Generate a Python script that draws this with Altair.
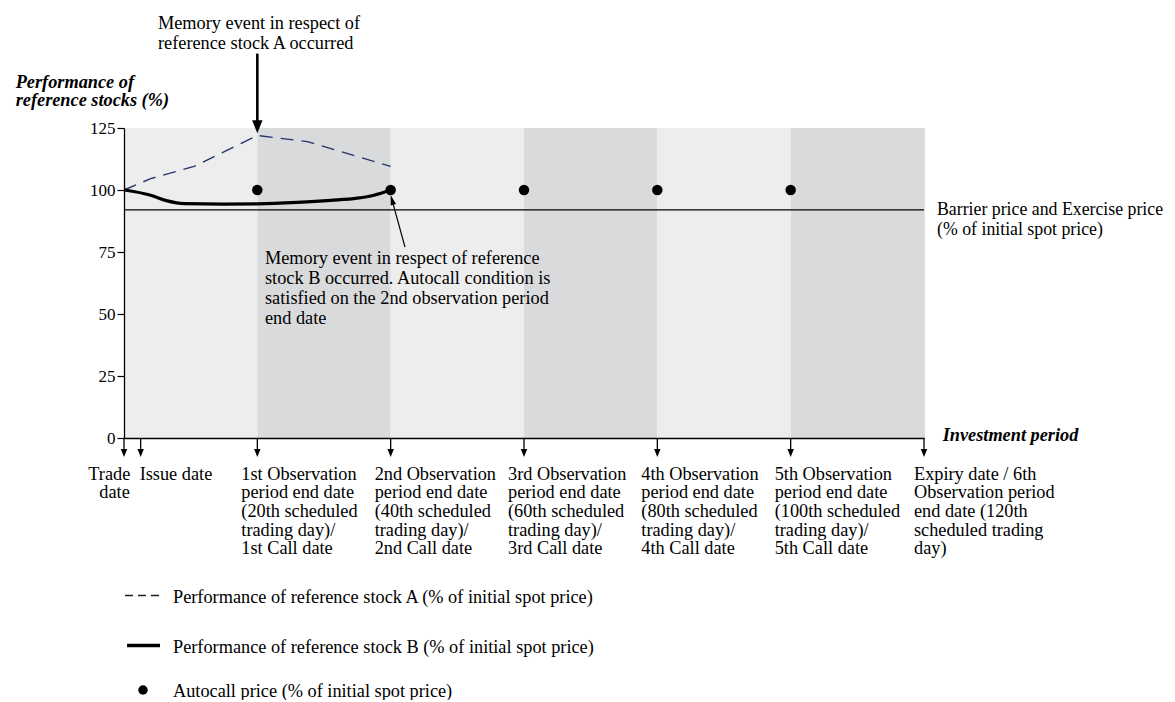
import altair as alt
import pandas as pd

FONT = "Liberation Serif"
NB = "\u00a0"

# ---------------- data ----------------
stock_a_days = [0, 4, 10.5, 20, 27.5, 40]
stock_a_perf = [100, 104.6, 109.5, 122, 119.5, 109.5]

stock_b_days = [0, 4, 6.5, 9, 15, 20, 26, 31, 35, 37.5, 40]
stock_b_perf = [100, 97.9, 95.6, 94.5, 94.3, 94.4, 95.0, 95.8, 96.7, 97.9, 100]

call_days = [20, 40, 60, 80, 100]
autocall_price = [100, 100, 100, 100, 100]

barrier_level = [92]

band_start = [0, 20, 40, 60, 80, 100]
band_end = [20, 40, 60, 80, 100, 120]
band_shade = ["light", "dark", "light", "dark", "light", "dark"]

y_ticks = [0, 25, 50, 75, 100, 125]

event_days = [0, 2.5, 20, 40, 60, 80, 100, 120]

obs_days = [20, 40, 60, 80, 100]
obs_labels = [
    "1st Observation\nperiod end date\n(20th scheduled\ntrading day)/\n1st Call date",
    "2nd Observation\nperiod end date\n(40th scheduled\ntrading day)/\n2nd Call date",
    "3rd Observation\nperiod end date\n(60th scheduled\ntrading day)/\n3rd Call date",
    "4th Observation\nperiod end date\n(80th scheduled\ntrading day)/\n4th Call date",
    "5th Observation\nperiod end date\n" + NB + "(100th scheduled\n" + NB + "trading day)/\n5th Call date",
]
expiry_label = "Expiry date / 6th\nObservation period\nend date (120th\nscheduled trading\nday)"

# annotation arrows (day, value) in data units
arrow_a_day = [20]
arrow_a_from = [155]
arrow_a_to = [125.5]
arrow_b_tail = [42.15, 77.0]
arrow_b_head = [40.2, 96.0]

W, H = 800, 310

xs = alt.Scale(domain=[0, 120], nice=False, zero=False)
ys = alt.Scale(domain=[0, 125], nice=False, zero=True)

x_axis = alt.Axis(labels=False, ticks=False, grid=False, title=None,
                  domainColor="black", domainWidth=1.3, zindex=1)
y_axis = alt.Axis(values=y_ticks, grid=False, title=None, labelFont=FONT,
                  labelFontSize=17, labelColor="black", tickColor="black",
                  tickSize=7, tickWidth=1.2, domainColor="black",
                  domainWidth=1.3, labelPadding=2, zindex=1)


def X(f):
    return alt.X(f, type="quantitative", scale=xs, axis=x_axis)


def Y(f):
    return alt.Y(f, type="quantitative", scale=ys, axis=y_axis)


bands_df = pd.DataFrame({"start": band_start, "end": band_end, "shade": band_shade})
bands = alt.Chart(bands_df).mark_rect().encode(
    x=X("start"), x2="end",
    y=alt.value(0), y2=alt.value(H),
    color=alt.Color("shade:N", scale=alt.Scale(domain=["light", "dark"],
                                               range=["#ededed", "#d9dadc"]),
                    legend=None),
)

barrier_df = pd.DataFrame({"level": barrier_level, "s": [0], "e": [120]})
barrier = alt.Chart(barrier_df).mark_rule(color="black", strokeWidth=1.4).encode(
    x=X("s"), x2="e", y=Y("level"))

a_df = pd.DataFrame({"day": stock_a_days, "perf": stock_a_perf})
line_a = alt.Chart(a_df).mark_line(color="#27346a", strokeWidth=1.4,
                                   strokeDash=[13, 8]).encode(x=X("day"), y=Y("perf"))

b_df = pd.DataFrame({"day": stock_b_days, "perf": stock_b_perf})
line_b = alt.Chart(b_df).mark_line(color="black", strokeWidth=3.2,
                                   interpolate="monotone").encode(x=X("day"), y=Y("perf"))

c_df = pd.DataFrame({"day": call_days, "price": autocall_price})
calls = alt.Chart(c_df).mark_point(filled=True, color="black", opacity=1, size=110,
                                   shape="circle").encode(x=X("day"), y=Y("price"))

# arrows under the x axis
ev_df = pd.DataFrame({"day": event_days})
ev_shaft = alt.Chart(ev_df).mark_rule(color="black", strokeWidth=1.3).encode(
    x=X("day"), y=alt.value(H), y2=alt.value(H + 12))
ev_head = alt.Chart(ev_df).mark_point(filled=True, color="black", opacity=1, size=64,
                                      shape="M-0.8,-1L0.8,-1L0,1Z").encode(
    x=X("day"), y=alt.value(H + 15))

# top arrow (stock A memory event)
ta_df = pd.DataFrame({"day": arrow_a_day, "v1": arrow_a_from, "v2": arrow_a_to})
ta_shaft = alt.Chart(ta_df).mark_rule(color="black", strokeWidth=2.6).encode(
    x=X("day"), y=Y("v1"), y2="v2")
ta_head = alt.Chart(ta_df).mark_point(filled=True, color="black", opacity=1, size=169,
                                      shape="M-0.8,-1L0.8,-1L0,1Z").encode(
    x=X("day"), y=Y("v2"))

# arrow to stock B event
tb_df = pd.DataFrame({"d1": [arrow_b_tail[0]], "v1": [arrow_b_tail[1]],
                      "d2": [arrow_b_head[0]], "v2": [arrow_b_head[1]]})
tb_shaft = alt.Chart(tb_df).mark_rule(color="black", strokeWidth=1.2).encode(
    x=X("d1"), y=Y("v1"), x2="d2", y2="v2")
tb_head = alt.Chart(tb_df).mark_point(filled=True, color="black", opacity=1, size=100,
                                      angle=344, shape="M0,-1L0.55,1L-0.55,1Z").encode(
    x=X("d2"), y=Y("v2"))

# x labels
obs_df = pd.DataFrame({"day": obs_days, "label": obs_labels})
obs_text = alt.Chart(obs_df).mark_text(font=FONT, fontSize=18.3, align="left",
                                       baseline="alphabetic", lineBreak="\n",
                                       lineHeight=18.7, dx=-16, color="black").encode(
    x=X("day"), y=alt.value(351.6), text="label:N")

exp_df = pd.DataFrame({"day": [120], "label": [expiry_label]})
exp_text = alt.Chart(exp_df).mark_text(font=FONT, fontSize=18.3, align="left",
                                       baseline="alphabetic", lineBreak="\n",
                                       lineHeight=18.7, dx=-10, color="black").encode(
    x=X("day"), y=alt.value(351.6), text="label:N")

trade_df = pd.DataFrame({"day": [0]})
trade1 = alt.Chart(trade_df).mark_text(font=FONT, fontSize=18.3, align="left",
                                       baseline="alphabetic", dx=-35.7, text="Trade",
                                       color="black").encode(x=X("day"), y=alt.value(351.6))
trade2 = alt.Chart(trade_df).mark_text(font=FONT, fontSize=18.3, align="left",
                                       baseline="alphabetic", dx=-24.7, text="date",
                                       color="black").encode(x=X("day"), y=alt.value(370.3))
issue_df = pd.DataFrame({"day": [2.5]})
issue = alt.Chart(issue_df).mark_text(font=FONT, fontSize=18.3, align="left",
                                      baseline="alphabetic", dx=-1, text="Issue date",
                                      color="black").encode(x=X("day"), y=alt.value(351.6))


def label(lines, x, y, lh=18.7, size=18.3, bold=False):
    kw = dict(font=FONT, fontSize=size, align="left", baseline="alphabetic",
              lineHeight=lh, text=lines, color="black")
    if bold:
        kw.update(fontWeight="bold", fontStyle="italic")
    return alt.Chart(pd.DataFrame({"k": [0]})).mark_text(**kw).encode(
        x=alt.value(x), y=alt.value(y))


y_title = label(["Performance of", "reference stocks (%)"], -108.3, -40.4, bold=True)
inv_title = label("Investment period", 818.7, 313, bold=True)
barrier_txt = label(["Barrier price and Exercise price", NB + "(% of initial spot price)"],
                    813, 86.6, lh=20, size=17.8)
ann_a = label(["Memory event in respect of", "reference stock A occurred"], 34, -99.4, lh=20.6)
ann_b = label(["Memory event in respect of reference",
               "stock B occurred. Autocall condition is",
               "satisfied on the 2nd observation period",
               NB + "end date"], 141, 135.6, lh=20)

# legend
leg_a_line = alt.Chart(pd.DataFrame({"k": [0]})).mark_rule(
    color="#222222", strokeWidth=1.5, strokeDash=[8, 5]).encode(
    x=alt.value(1), x2=alt.value(37), y=alt.value(467.5))
leg_b_line = alt.Chart(pd.DataFrame({"k": [0]})).mark_rule(
    color="black", strokeWidth=3.5).encode(
    x=alt.value(3), x2=alt.value(36), y=alt.value(517.5))
leg_dot = alt.Chart(pd.DataFrame({"k": [0]})).mark_point(
    filled=True, color="black", opacity=1, size=90, shape="circle").encode(
    x=alt.value(19), y=alt.value(562))
leg_a_txt = label("Performance of reference stock A (% of initial spot price)", 49, 474.6)
leg_b_txt = label("Performance of reference stock B (% of initial spot price)", 49, 524.6)
leg_c_txt = label("Autocall price (% of initial spot price)", 49, 568.5)

chart = alt.layer(
    bands, barrier, line_a, line_b, calls,
    ev_shaft, ev_head, ta_shaft, ta_head, tb_shaft, tb_head,
    obs_text, exp_text, trade1, trade2, issue,
    y_title, inv_title, barrier_txt, ann_a, ann_b,
    leg_a_line, leg_b_line, leg_dot, leg_a_txt, leg_b_txt, leg_c_txt,
).properties(
    width=W, height=H,
    autosize=alt.AutoSizeParams(type="none"),
    padding={"left": 116, "top": 120, "right": 240, "bottom": 262},
).configure_view(stroke=None).configure(background="white")

chart.save("out.html", embed_options={"renderer": "svg", "actions": False})
